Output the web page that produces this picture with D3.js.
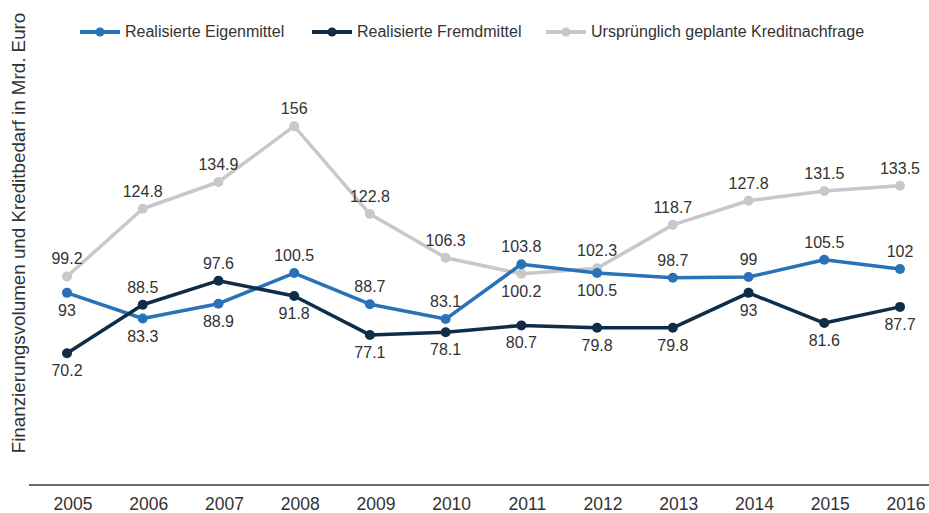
<!DOCTYPE html>
<html>
<head>
<meta charset="utf-8">
<script src="https://cdn.jsdelivr.net/npm/d3@7"></script>
<style>
  body { margin: 0; background: #fff; }
  text { font-family: "Liberation Sans", Arial, sans-serif; fill: #333; }
</style>
</head>
<body>
<div id="chart"></div>
<script>
// data
var years = ["2005","2006","2007","2008","2009","2010","2011","2012","2013","2014","2015","2016"];
var eigen = [93, 83.3, 88.9, 100.5, 88.7, 83.1, 103.8, 100.5, 98.7, 99, 105.5, 102];
var fremd = [70.2, 88.5, 97.6, 91.8, 77.1, 78.1, 80.7, 79.8, 79.8, 93, 81.6, 87.7];
var geplant = [99.2, 124.8, 134.9, 156, 122.8, 106.3, 100.2, 102.3, 118.7, 127.8, 131.5, 133.5];
// label placement: 1 = above, -1 = below
var eigenPos = [-1, -1, -1, 1, 1, 1, 1, -1, 1, 1, 1, 1];
var fremdPos = [-1, 1, 1, -1, -1, -1, -1, -1, -1, -1, -1, -1];
var geplantPos = [1, 1, 1, 1, 1, 1, -1, 1, 1, 1, 1, 1];
var seriesNames = ["Realisierte Eigenmittel", "Realisierte Fremdmittel", "Ursprünglich geplante Kreditnachfrage"];
var colors = ["#2a72b8", "#0f2d47", "#c8c8ca"];

var w = 929;
var h = 513;

var svg = d3.select("#chart")
            .append("svg")
            .attr("width", w)
            .attr("height", h);

var x = d3.scalePoint()
          .domain(years)
          .range([67, 900]);

var y = d3.scaleLinear()
          .domain([20, 160])
          .range([486, 115.6]);

var series = [
    {name: seriesNames[0], values: eigen, pos: eigenPos, color: colors[0]},
    {name: seriesNames[1], values: fremd, pos: fremdPos, color: colors[1]},
    {name: seriesNames[2], values: geplant, pos: geplantPos, color: colors[2]}
];

// x axis line and year labels
svg.append("line")
   .attr("x1", 29)
   .attr("x2", w)
   .attr("y1", y(20) - 1)
   .attr("y2", y(20) - 1)
   .style("stroke", "#6b6b6b")
   .style("stroke-width", 2);

svg.selectAll(".year")
   .data(years)
   .enter()
   .append("text")
   .attr("class", "year")
   .attr("x", function(d) { return x(d) + 6; })
   .attr("y", 510)
   .attr("text-anchor", "middle")
   .style("font-size", "17.5px")
   .text(function(d) { return d; });

// y axis title
svg.append("text")
   .attr("transform", "translate(25," + 233 + ") rotate(-90)")
   .attr("text-anchor", "middle")
   .style("font-size", "18.8px")
   .text("Finanzierungsvolumen und Kreditbedarf in Mrd. Euro");

var line = d3.line()
             .x(function(d, i) { return x(years[i]); })
             .y(function(d) { return y(d); });

// draw gray first so it sits behind
[2, 0, 1].forEach(function(k) {
    var s = series[k];
    var g = svg.append("g");
    g.append("path")
     .datum(s.values)
     .attr("d", line)
     .style("fill", "none")
     .style("stroke", s.color)
     .style("stroke-width", 3.5)
     .style("stroke-linejoin", "round");
    g.selectAll("circle")
     .data(s.values)
     .enter()
     .append("circle")
     .attr("cx", function(d, i) { return x(years[i]); })
     .attr("cy", function(d) { return y(d); })
     .attr("r", 5)
     .style("fill", s.color);
});

// value labels
series.forEach(function(s) {
    svg.append("g")
       .selectAll("text")
       .data(s.values)
       .enter()
       .append("text")
       .attr("x", function(d, i) { return x(years[i]); })
       .attr("y", function(d, i) { return s.pos[i] > 0 ? y(d) - 12 : y(d) + 23; })
       .attr("text-anchor", "middle")
       .style("font-size", "16px")
       .text(function(d) { return d; });
});

// legend
var legendX = [80, 312, 546];
var legend = svg.selectAll(".legend")
    .data(series)
    .enter()
    .append("g")
    .attr("class", "legend")
    .attr("transform", function(d, i) { return "translate(" + legendX[i] + ",32)"; });
legend.append("line")
      .attr("x1", 0)
      .attr("x2", 40)
      .style("stroke", function(d) { return d.color; })
      .style("stroke-width", 4);
legend.append("circle")
      .attr("cx", 20)
      .attr("r", 4.5)
      .style("fill", function(d) { return d.color; });
legend.append("text")
      .attr("x", 45)
      .attr("y", 5)
      .style("font-size", "16px")
      .text(function(d) { return d.name; });
</script>
</body>
</html>
